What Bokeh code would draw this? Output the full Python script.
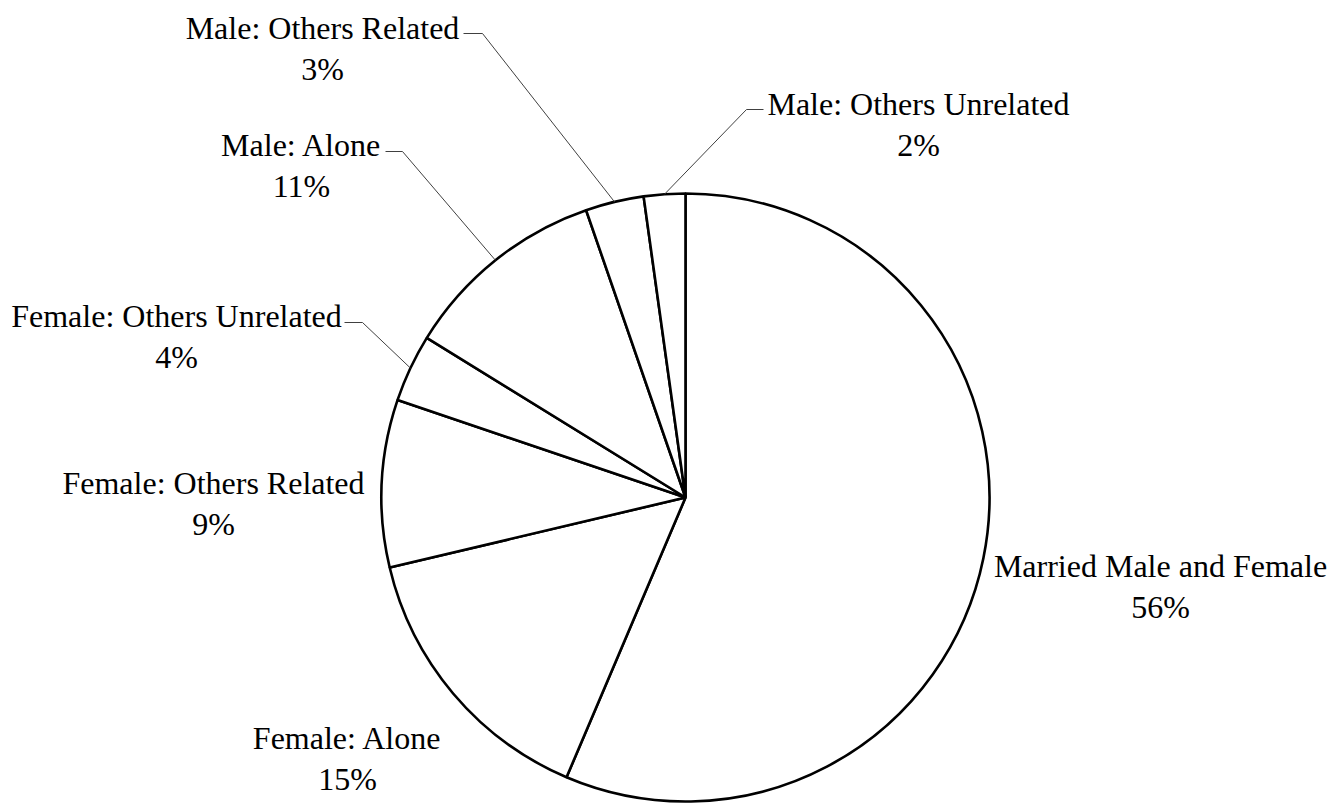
import numpy as np
from bokeh.plotting import figure
from bokeh.models import Range1d, ColumnDataSource
from bokeh.core.properties import value
from bokeh.embed import file_html
from bokeh.resources import INLINE

# Household composition shares (percent), clockwise from 12 o'clock
categories = [
    "Married Male and Female",
    "Female: Alone",
    "Female: Others Related",
    "Female: Others Unrelated",
    "Male: Alone",
    "Male: Others Related",
    "Male: Others Unrelated",
]
shares = [56.4, 14.9, 8.9, 3.6, 10.9, 3.1, 2.2]

W, H = 1331, 804
CX, CY, R = 685, 497, 304          # pie centre / radius in screen pixels (y down)
FONT = "Liberation Serif"
FSIZE = "32px"
LINE_GAP = 41.5

# Label anchors: (centre x, first-line baseline y) in screen pixels
label_pos = [
    (1160, 565),
    (347, 737),
    (213, 482),
    (176, 315),
    (301, 144),
    (322, 27),
    (918, 103),
]
# Leader lines for the small labels: elbow point and horizontal run (signed)
leaders = {
    3: (362, 322, -18),
    4: (402, 151, -17),
    5: (482, 33, -19),
    6: (746, 109, 17),
}


def ys(y):
    """screen y (down) -> data y (up)"""
    return H - y


p = figure(width=W, height=H, output_backend="svg", toolbar_location=None,
           x_range=Range1d(0, W), y_range=Range1d(0, H),
           min_border=0, outline_line_color=None, background_fill_color="white",
           border_fill_color="white")
p.axis.visible = False
p.grid.visible = False

vals = np.array(shares, dtype=float)
frac = vals / vals.sum()
c1 = np.cumsum(frac)
c0 = c1 - frac
start = np.pi / 2 - 2 * np.pi * c1
end = np.pi / 2 - 2 * np.pi * c0

src = ColumnDataSource(dict(start=start, end=end, cat=categories))
p.wedge(x=CX, y=ys(CY), radius=R, start_angle="start", end_angle="end",
        direction="anticlock", source=src, fill_color="white",
        line_color="black", line_width=2.6)

# Leader lines from the slice midpoint on the rim to the label
mid = (start + end) / 2
for i, (ex, ey, run) in leaders.items():
    ax = CX + R * np.cos(mid[i])
    ay = ys(CY) + R * np.sin(mid[i])
    p.line([ax, ex, ex + run], [ay, ys(ey), ys(ey)],
           line_color="#404040", line_width=1)

pct = [f"{int(round(v))}%" for v in vals / vals.sum() * 100]
tx, ty, tt = [], [], []
for (lx, ly), name, pc in zip(label_pos, categories, pct):
    tx += [lx, lx]
    ty += [ys(ly), ys(ly + LINE_GAP)]
    tt += [name, pc]

p.text(x=tx, y=ty, text=tt, text_align="center", text_baseline="alphabetic",
       text_font=value(FONT), text_font_size=FSIZE, text_color="black")

open("out.html", "w").write(file_html(p, INLINE))
